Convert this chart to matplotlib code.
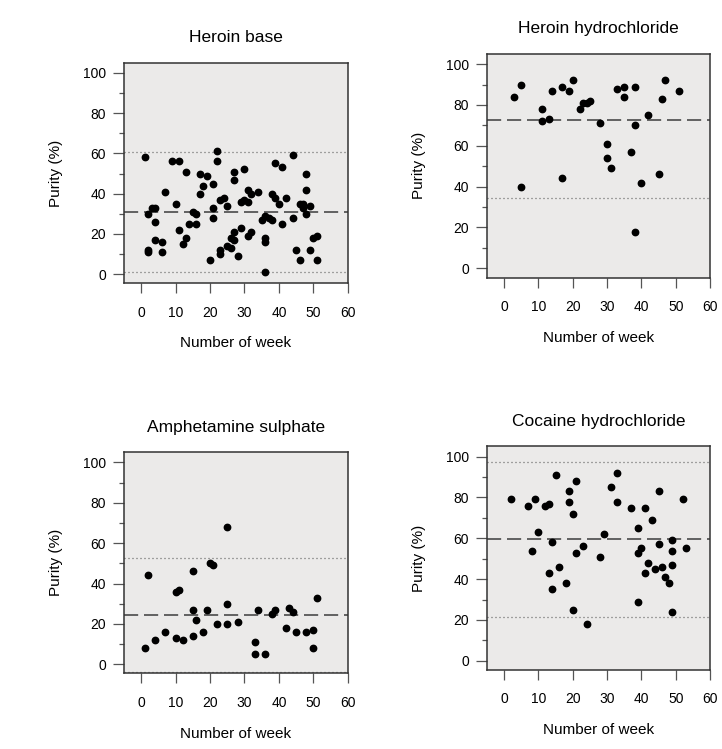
import matplotlib
matplotlib.use("Agg")
import matplotlib.pyplot as plt
from matplotlib.ticker import MultipleLocator

plt.rcParams['font.family'] = ['Liberation Sans', 'DejaVu Sans']

# ---- data (week, purity %) ----
titles = ["Heroin base", "Heroin hydrochloride",
          "Amphetamine sulphate", "Cocaine hydrochloride"]

hb_week = [1, 2, 2, 2, 3, 4, 4, 4, 6, 6, 7, 9, 11, 10, 11, 12, 13, 13, 14, 15,
           16, 16, 17, 17, 18, 19, 20, 21, 22, 22, 21, 21, 23, 24, 25, 27, 27, 30,
           31, 32, 34, 29, 30, 31, 29, 27, 26, 27, 25, 26, 23, 23, 28, 31, 32, 36,
           36, 36, 35, 36, 37, 38, 39, 41, 38, 39, 40, 42, 41, 44, 44, 48, 48, 46,
           47, 47, 49, 48, 50, 51, 45, 49, 46, 51]
hb_pur = [58, 30, 12, 11, 33, 33, 26, 17, 16, 11, 41, 56, 56, 35, 22, 15, 18, 51,
          25, 31, 30, 25, 40, 50, 44, 49, 7, 45, 61, 56, 33, 28, 37, 38, 34, 51,
          47, 52, 42, 40, 41, 36, 37, 36, 23, 21, 18, 17, 14, 13, 12, 10, 9, 19,
          21, 18, 16, 1, 27, 29, 28, 27, 55, 53, 40, 38, 35, 38, 25, 59, 28, 50,
          42, 35, 35, 33, 34, 30, 18, 19, 12, 12, 7, 7]

hh_week = [3, 5, 5, 11, 11, 13, 14, 17, 20, 19, 17, 22, 23, 24, 25, 28, 30, 30,
           31, 33, 35, 35, 37, 38, 38, 38, 40, 42, 45, 46, 47, 51]
hh_pur = [84, 90, 40, 78, 72, 73, 87, 89, 92, 87, 44, 78, 81, 81, 82, 71, 61, 54,
          49, 88, 89, 84, 57, 89, 70, 18, 42, 75, 46, 83, 92, 87]

am_week = [2, 10, 11, 15, 15, 16, 19, 20, 21, 25, 25, 34, 39, 38, 43, 44, 51, 1,
           4, 7, 10, 12, 15, 18, 22, 25, 28, 33, 33, 36, 42, 45, 48, 50, 50]
am_pur = [44, 36, 37, 46, 27, 22, 27, 50, 49, 68, 30, 27, 27, 25, 28, 26, 33, 8,
          12, 16, 13, 12, 14, 16, 20, 20, 21, 11, 5, 5, 18, 16, 16, 17, 8]

co_week = [2, 7, 9, 8, 10, 12, 13, 15, 14, 13, 14, 16, 18, 19, 19, 20, 21, 21,
           23, 20, 24, 28, 29, 31, 33, 33, 37, 39, 41, 43, 39, 40, 39, 42, 41, 44,
           46, 45, 45, 47, 48, 49, 49, 49, 49, 52, 53]
co_pur = [79, 76, 79, 54, 63, 76, 77, 91, 58, 43, 35, 46, 38, 83, 78, 72, 88, 53,
          56, 25, 18, 51, 62, 85, 92, 78, 75, 65, 75, 69, 53, 55, 29, 48, 43, 45,
          46, 83, 57, 41, 38, 59, 54, 47, 24, 79, 55]

# mean (dashed) and limits (dotted)
means = [30.9, 72.5, 24.4, 59.8]
limits = [[60.6, 1.2], [34.3], [52.8, -3.8], [97.5, 21.6]]

weeks = [hb_week, hh_week, am_week, co_week]
purities = [hb_pur, hh_pur, am_pur, co_pur]

# axes boxes in figure fractions [left, bottom, width, height]
boxes = [[0.1717, 0.6220, 0.3100, 0.2940],
         [0.6745, 0.6295, 0.3090, 0.2985],
         [0.1717, 0.1010, 0.3100, 0.2950],
         [0.6745, 0.1055, 0.3090, 0.2985]]

fig = plt.figure(figsize=(7.22, 7.49), dpi=100)

for i in range(4):
    ax = fig.add_axes(boxes[i])
    ax.set_facecolor('#ebeae9')
    ax.axhline(means[i], color='#4a4a4a', lw=1.2, dashes=(8.5, 3.5), zorder=1)
    for lim in limits[i]:
        ax.axhline(lim, color='#555555', lw=0.9, linestyle=(0, (0.8, 2.4)), zorder=1)
    ax.plot(weeks[i], purities[i], 'o', color='black', ms=4.6, zorder=3)

    ax.set_xlim(-5, 60)
    ax.set_ylim(-4.5, 105)
    ax.set_xticks(range(0, 61, 10))
    ax.set_yticks(range(0, 101, 20))
    ax.yaxis.set_minor_locator(MultipleLocator(10))
    ax.tick_params(axis='y', which='major', length=8, width=0.9, color='#555555',
                   labelsize=10, pad=5)
    ax.tick_params(axis='y', which='minor', length=3.8, width=0.9, color='#555555')
    ax.tick_params(axis='x', length=7.2, width=0.9, color='#555555',
                   labelsize=10, pad=9)
    for s in ax.spines.values():
        s.set_color('#333333')
        s.set_linewidth(1.1)

    ax.set_title(titles[i], fontsize=12.5, pad=15)
    ax.set_xlabel('Number of week', fontsize=11, labelpad=12)
    ax.set_ylabel('Purity (%)', fontsize=11, labelpad=14)

fig.savefig('out.png', dpi=100)
